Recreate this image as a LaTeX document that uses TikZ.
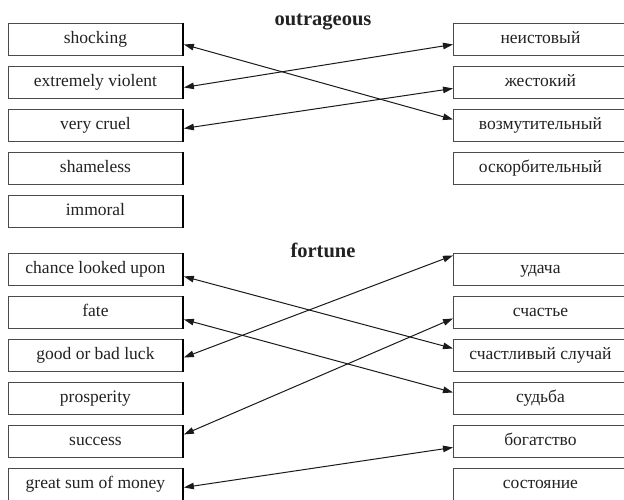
\documentclass[tikz,border=0pt]{standalone}
\usepackage{fontspec}
\setmainfont{Liberation Serif}
\usetikzlibrary{calc,arrows.meta}
\definecolor{boxgray}{HTML}{4A4A4A}
\definecolor{textcol}{HTML}{222222}
\definecolor{arrowcol}{HTML}{1A1A1A}
\begin{document}
\begin{tikzpicture}[x=1pt,y=-1pt,
  wbox/.style={draw=boxgray, line width=0.9pt, minimum width=174pt, minimum height=32pt,
    inner sep=0pt, text height=12pt, text depth=4pt, font=\fontsize{17.5}{20}\selectfont,
    text=textcol, anchor=north west},
  link/.style={line width=1pt, draw=arrowcol,
    {Triangle[length=10pt,width=6.5pt]}-{Triangle[length=10pt,width=6.5pt]}},
  ttl/.style={font=\bfseries\fontsize{20.5}{24}\selectfont, anchor=base, text=textcol}]
\clip (0,0) rectangle (624,500);
\fill[white] (0,0) rectangle (624,500);

% titles
\node[ttl] (t1) at (323,26) {outrageous};
\node[ttl] (t2) at (323,257) {fortune};

% top left
\node[wbox] (l1) at (8,23)  {shocking};
\node[wbox] (l2) at (8,66)  {extremely violent};
\node[wbox] (l3) at (8,109) {very cruel};
\node[wbox] (l4) at (8,152) {shameless};
\node[wbox] (l5) at (8,195) {immoral};
% top right
\node[wbox] (r1) at (453,23)  {неистовый};
\node[wbox] (r2) at (453,66)  {жестокий};
\node[wbox] (r3) at (453,109) {возмутительный};
\node[wbox] (r4) at (453,152) {оскорбительный};

% bottom left
\node[wbox] (m1) at (8,253) {chance looked upon};
\node[wbox] (m2) at (8,296) {fate};
\node[wbox] (m3) at (8,339) {good or bad luck};
\node[wbox] (m4) at (8,382) {prosperity};
\node[wbox] (m5) at (8,425) {success};
\node[wbox] (m6) at (8,468) {great sum of money};
% bottom right
\node[wbox] (s1) at (453,253) {удача};
\node[wbox] (s2) at (453,296) {счастье};
\node[wbox] (s3) at (453,339) {счастливый случай};
\node[wbox] (s4) at (453,382) {судьба};
\node[wbox] (s5) at (453,425) {богатство};
\node[wbox] (s6) at (453,468) {состояние};

% darker right edges of left boxes
\foreach \n in {l1,l2,l3,l4,l5,m1,m2,m3,m4,m5,m6}
  \draw[line width=1.3pt, draw=black] (\n.north east) -- (\n.south east);

% connectors (top)
\draw[link] ($(l1.east)+(1,5)$) -- ($(r3.west)+(0,-6)$);
\draw[link] ($(l2.east)+(1,5)$) -- ($(r1.west)+(0,5)$);
\draw[link] ($(l3.east)+(1,3)$) -- ($(r2.west)+(0,6)$);
% connectors (bottom)
\draw[link] ($(m1.east)+(1,7)$) -- ($(s3.west)+(0,-7)$);
\draw[link] ($(m2.east)+(1,7)$) -- ($(s4.west)+(0,-6)$);
\draw[link] ($(m3.east)+(1,2)$) -- ($(s1.west)+(0,-14)$);
\draw[link] ($(m5.east)+(1,-7)$) -- ($(s2.west)+(0,6)$);
\draw[link] ($(m6.east)+(1,3)$) -- ($(s5.west)+(0,6)$);
\end{tikzpicture}
\end{document}
